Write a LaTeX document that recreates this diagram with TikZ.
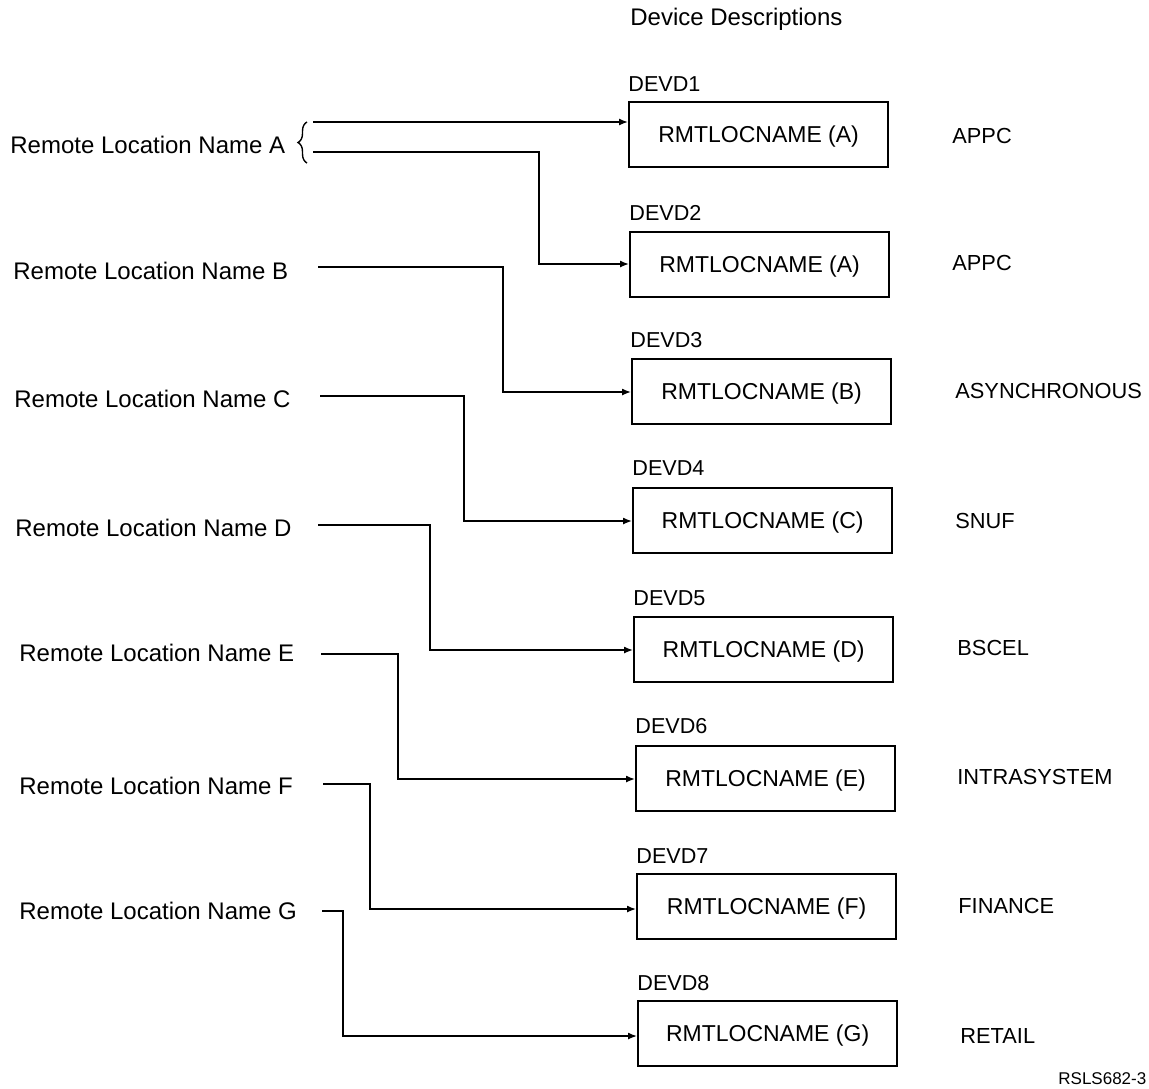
\documentclass[tikz,border=0pt]{standalone}
\usepackage{fontspec}
\setmainfont{Liberation Sans}
\usetikzlibrary{arrows.meta,decorations.pathreplacing}
\begin{document}
\begin{tikzpicture}[x=0.5pt,y=-0.5pt,
  txt/.style={inner sep=0pt,anchor=base west,font=\fontsize{12}{14}\selectfont},
  devname/.style={inner sep=0pt,anchor=base west,font=\fontsize{10.8}{13}\selectfont},
  kind/.style={inner sep=0pt,anchor=base west,font=\fontsize{10.9}{13}\selectfont},
  small/.style={inner sep=0pt,anchor=base west,font=\fontsize{8.5}{10}\selectfont},
  devbox/.style={draw,line width=1.1pt,minimum width=129.5pt,minimum height=32.5pt,
    inner sep=0pt,text height=8.2pt,text depth=0pt,anchor=north west,
    font=\fontsize{11.5}{14}\selectfont},
  conn/.style={line width=0.7pt,-{Latex[length=4.5pt,width=3.5pt]}},
  plain/.style={line width=0.7pt}]
\useasboundingbox (0,0) rectangle (1149,1088);

% heading
\node[txt] (head) at (630,25) {Device Descriptions};

% remote location names
\node[txt] (la) at (10,153) {Remote Location Name A};
\node[txt] (lb) at (13,279) {Remote Location Name B};
\node[txt] (lc) at (14,407) {Remote Location Name C};
\node[txt] (ld) at (15,536) {Remote Location Name D};
\node[txt] (le) at (19,661) {Remote Location Name E};
\node[txt] (lf) at (19,794) {Remote Location Name F};
\node[txt] (lg) at (19,919) {Remote Location Name G};

% device description boxes
\node[devbox] (b1) at (628,101)  {RMTLOCNAME (A)};
\node[devbox] (b2) at (629,231)  {RMTLOCNAME (A)};
\node[devbox] (b3) at (631,358)  {RMTLOCNAME (B)};
\node[devbox] (b4) at (632,487)  {RMTLOCNAME (C)};
\node[devbox] (b5) at (633,616)  {RMTLOCNAME (D)};
\node[devbox] (b6) at (635,745)  {RMTLOCNAME (E)};
\node[devbox] (b7) at (636,873)  {RMTLOCNAME (F)};
\node[devbox] (b8) at (637,1000) {RMTLOCNAME (G)};

% device names above the boxes
\node[devname] (d1) at (628,91)  {DEVD1};
\node[devname] (d2) at (629,220) {DEVD2};
\node[devname] (d3) at (630,347) {DEVD3};
\node[devname] (d4) at (632,475) {DEVD4};
\node[devname] (d5) at (633,605) {DEVD5};
\node[devname] (d6) at (635,733) {DEVD6};
\node[devname] (d7) at (636,863) {DEVD7};
\node[devname] (d8) at (637,990) {DEVD8};

% communication types
\node[kind] (t1) at (952,143)  {APPC};
\node[kind] (t2) at (952,270)  {APPC};
\node[kind] (t3) at (955,398)  {ASYNCHRONOUS};
\node[kind] (t4) at (955,528)  {SNUF};
\node[kind] (t5) at (957,655)  {BSCEL};
\node[kind] (t6) at (957,784)  {INTRASYSTEM};
\node[kind] (t7) at (958,913)  {FINANCE};
\node[kind] (t8) at (960,1043) {RETAIL};

% figure id
\node[small] (fig) at (1058,1084) {RSLS682-3};

% brace grouping the two links of name A
\draw[plain,decorate,decoration={brace,amplitude=4.5pt}] (307,163) -- (307,122);

% link start points and corners
\coordinate (sa1) at (313,122);
\coordinate (sa2) at (313,152);  \coordinate (ca2) at (539,264);
\coordinate (sb) at (318,267);   \coordinate (cb) at (503,392);
\coordinate (sc) at (320,396);   \coordinate (cc) at (464,521);
\coordinate (sd) at (318,525);   \coordinate (cd) at (430,650);
\coordinate (se) at (321,654);   \coordinate (ce) at (398,779);
\coordinate (sf) at (323,784);   \coordinate (cf) at (370,909);
\coordinate (sg) at (322,911);   \coordinate (cg) at (343,1036);

\draw[conn] (sa1) -- (sa1 -| b1.west);
\draw[conn] (sa2) -| (ca2) -- (ca2 -| b2.west);
\draw[conn] (sb) -| (cb) -- (cb -| b3.west);
\draw[conn] (sc) -| (cc) -- (cc -| b4.west);
\draw[conn] (sd) -| (cd) -- (cd -| b5.west);
\draw[conn] (se) -| (ce) -- (ce -| b6.west);
\draw[conn] (sf) -| (cf) -- (cf -| b7.west);
\draw[conn] (sg) -| (cg) -- (cg -| b8.west);
\end{tikzpicture}
\end{document}
